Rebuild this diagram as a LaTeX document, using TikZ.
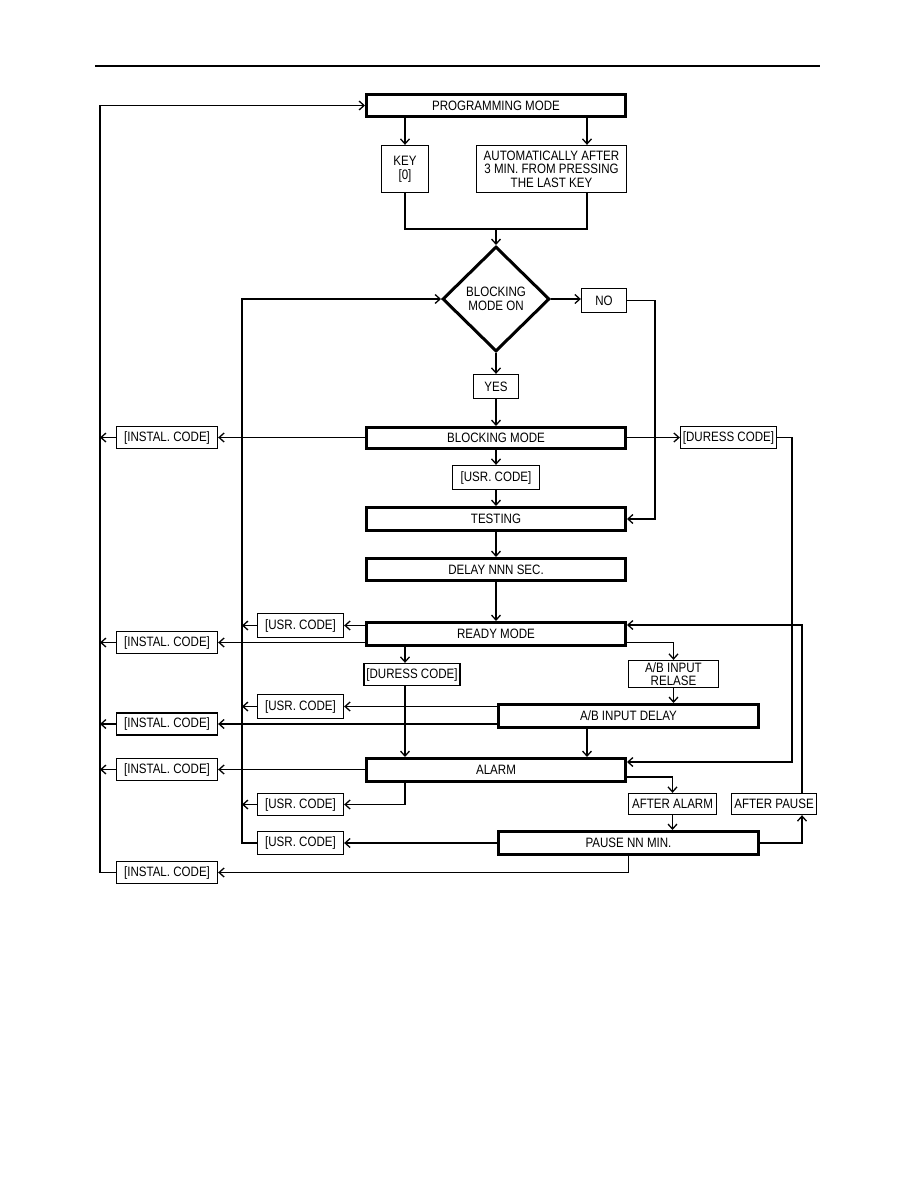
\documentclass[tikz,border=0pt]{standalone}
\usepackage{fontspec}
\setmainfont[FakeStretch=0.85]{Liberation Sans}
\usetikzlibrary{shapes.geometric,arrows.meta}
\tikzset{
  txt/.style={font=\fontsize{13.6}{13.6}\selectfont, align=center},
  thick box/.style={draw, line width=3pt, inner sep=0pt, txt},
  thin box/.style={draw, line width=1.3pt, inner sep=0pt, txt},
  wide/.style={minimum width=259pt, minimum height=22pt},
  code/.style={thin box, minimum width=101pt, minimum height=22pt},
  ucode/.style={thin box, minimum width=86pt, minimum height=24pt},
  dcode/.style={thin box, minimum width=96pt, minimum height=22pt},
  arr/.style={line width=1.3pt, -{Straight Barb[length=5pt,width=9pt,line width=1.3pt]}},
  ln/.style={line width=1.3pt},
}
\begin{document}
\begin{tikzpicture}[x=1pt,y=-1pt]
\useasboundingbox (0,0) rectangle (918,1188);
\fill[white] (0,0) rectangle (918,1188);
% header rule
\coordinate (hl) at (95,66);
\coordinate (hr) at (820,66);
\draw[line width=2.5pt] (hl) -- (hr);
% guide coordinates
\coordinate (xL) at (100,0);
\coordinate (xl) at (242,0);
\coordinate (xd) at (405,0);
\coordinate (xa) at (587,0);
\coordinate (xno) at (655,0);
\coordinate (xr1) at (792,0);
\coordinate (xr2) at (802,0);
\coordinate (join) at (496,229);

% nodes
\node[thick box, wide, minimum height=22pt] (pm) at (496,105.5) {PROGRAMMING MODE};
\node[thin box, minimum width=47pt, minimum height=47pt] (key) at (405,169) {KEY\\{}[0]};
\node[thin box, minimum width=150pt, minimum height=47pt] (auto) at (551.5,169) {AUTOMATICALLY AFTER\\3 MIN. FROM PRESSING\\THE LAST KEY};
\node[diamond, draw, line width=3pt, inner sep=0pt, minimum width=107pt, minimum height=105pt,
      txt] (dia) at (496,299) {BLOCKING\\MODE ON};
\node[thin box, minimum width=45pt, minimum height=24pt] (no) at (604,300.5) {NO};
\node[thin box, minimum width=45pt, minimum height=24pt] (yes) at (496,386.5) {YES};
\node[thick box, wide, minimum height=21pt] (bm) at (496,438) {BLOCKING MODE};
\node[code] (inst1) at (167,437.5) {[INSTAL. CODE]};
\node[dcode] (dur1) at (728.5,437.5) {[DURESS CODE]};
\node[ucode, minimum width=87pt] (usr0) at (496,477.5) {[USR. CODE]};
\node[thick box, wide, minimum height=23pt] (test) at (496,519) {TESTING};
\node[thick box, wide, minimum height=22pt] (delay) at (496,569.5) {DELAY NNN SEC.};
\node[thick box, wide, minimum height=23pt] (ready) at (496,634) {READY MODE};
\node[ucode] (usr1) at (300.5,625.5) {[USR. CODE]};
\node[code] (inst2) at (167,642.5) {[INSTAL. CODE]};
\node[dcode] (dur2) at (412,674.5) {[DURESS CODE]};
\node[thin box, minimum width=90pt, minimum height=27pt, font=\fontsize{13.6}{12.5}\selectfont] (rel) at (673.5,674) {A/B INPUT\\RELASE};
\node[thick box, minimum width=260pt, minimum height=23pt] (abd) at (628.5,716) {A/B INPUT DELAY};
\node[ucode] (usr2) at (300.5,706.5) {[USR. CODE]};
\node[code] (inst3) at (167,724) {[INSTAL. CODE]};
\node[thick box, wide, minimum height=23pt] (alarm) at (496,770) {ALARM};
\node[code] (inst4) at (167,769.5) {[INSTAL. CODE]};
\node[ucode, minimum height=22pt] (usr3) at (300.5,804.5) {[USR. CODE]};
\node[thin box, minimum width=88pt, minimum height=21pt] (aa) at (672.5,804) {AFTER ALARM};
\node[thin box, minimum width=85pt, minimum height=21pt] (ap) at (774,804) {AFTER PAUSE};
\node[thick box, minimum width=260pt, minimum height=23pt] (pause) at (628.5,843) {PAUSE NN MIN.};
\node[ucode, minimum height=23pt] (usr4) at (300.5,843) {[USR. CODE]};
\node[code] (inst5) at (167,872.5) {[INSTAL. CODE]};

% top part
\draw[arr] (pm.south -| key.north) -- (key.north);
\draw[arr] (pm.south -| xa) -- (auto.north -| xa);
\draw[ln] (key.south) -- (key.south |- join) -- (join -| xa) -- (auto.south -| xa);
\draw[arr] (join) -- (dia.north);
\draw[arr] (dia.east) -- (no.west |- dia.east);
\draw[arr] (no.east) -- (no.east -| xno) -- (test.east -| xno) -- (test.east);
\draw[arr] (dia.south) -- (yes.north);
\draw[arr] (yes.south) -- (bm.north);

% blocking mode
\draw[arr] (bm.west |- inst1) -- (inst1.east);
\draw[arr] (inst1.west) -- (inst1.west -| xL);
\draw[arr] (bm.east |- dur1) -- (dur1.west);
\draw[arr] (dur1.east) -- (dur1.east -| xr1) -- ([yshift=8pt]alarm.east -| xr1) -- ([yshift=8pt]alarm.east);
\draw[arr] (bm.south) -- (usr0.north);
\draw[arr] (usr0.south) -- (test.north);
\draw[arr] (test.south) -- (delay.north);
\draw[arr] (delay.south) -- (ready.north);

% ready mode
\draw[arr] (ready.west |- usr1) -- (usr1.east);
\draw[arr] (usr1.west) -- (usr1.west -| xl);
\draw[arr] (ready.west |- inst2) -- (inst2.east);
\draw[arr] (inst2.west) -- (inst2.west -| xL);
\draw[arr] (ready.south -| xd) -- (dur2.north -| xd);
\draw[arr] (dur2.south -| xd) -- (alarm.north -| xd);
\draw[arr] (ready.east |- inst2) -| (rel.north);
\draw[arr] (rel.south) -- (abd.north -| rel.south);

% A/B input delay
\draw[arr] (abd.west |- usr2) -- (usr2.east);
\draw[arr] (usr2.west) -- (usr2.west -| xl);
\draw[arr] (abd.west |- inst3) -- (inst3.east);
\draw[arr] (inst3.west) -- (inst3.west -| xL);
\draw[arr] (abd.south -| xa) -- (alarm.north -| xa);

% alarm
\draw[arr] (alarm.west |- inst4) -- (inst4.east);
\draw[arr] (inst4.west) -- (inst4.west -| xL);
\draw[arr] (alarm.south -| xd) |- (usr3.east);
\draw[arr] (usr3.west) -- (usr3.west -| xl);
\draw[arr] ([yshift=-7pt]alarm.east) -| (aa.north);
\draw[arr] (aa.south) -- (pause.north -| aa.south);

% pause
\draw[arr] (pause.west) -- (usr4.east);
\draw[arr] (usr4.west) -- (usr4.west -| xl) -- (dia.west -| xl) -- (dia.west);
\draw[arr] (pause.east) -- (pause.east -| xr2) -- (ap.south -| xr2);
\draw[arr] (ap.north -| xr2) |- ([yshift=9pt]ready.east);
\draw[arr] (pause.south) |- (inst5.east);
\draw[arr] (inst5.west) -- (inst5.west -| xL) -- (pm.west -| xL) -- (pm.west);
\end{tikzpicture}
\end{document}
